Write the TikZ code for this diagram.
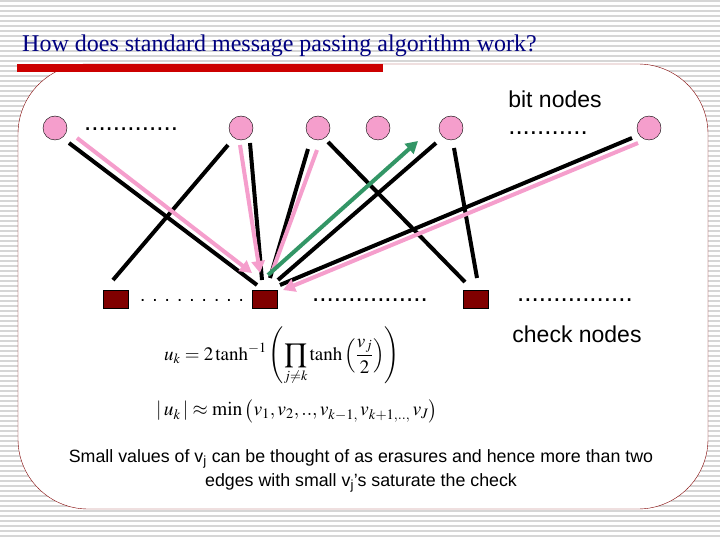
\documentclass[tikz,border=0pt]{standalone}
\usepackage{mathptmx}
\usepackage[no-math]{fontspec}
\setmainfont{Liberation Serif}
\setsansfont{Liberation Sans}
\usetikzlibrary{arrows.meta}

\definecolor{bitpink}{RGB}{245,158,204}
\definecolor{checkred}{RGB}{128,0,0}
\definecolor{msggreen}{RGB}{51,150,102}
\definecolor{titleblue}{RGB}{0,0,128}
\definecolor{barred}{RGB}{204,0,0}

\tikzset{
  bitnode/.style={circle, draw=black, thin, fill=bitpink, minimum size=24pt, inner sep=0pt},
  checknode/.style={rectangle, draw=black, very thin, fill=checkred, minimum width=25pt, minimum height=18pt, inner sep=0pt},
  link/.style={black, line width=4pt},
  msg/.style={bitpink, line width=4pt},
  msgtip/.style={-{Triangle[length=12pt,width=13pt]}},
  reply/.style={msggreen, line width=4pt, -{Triangle[length=12pt,width=13pt]}},
  dotrow/.style={font=\sffamily\fontsize{26}{26}\selectfont, inner sep=0pt, anchor=base},
  tag/.style={font=\sffamily\fontsize{23}{26}\selectfont, inner sep=0pt, anchor=base},
  stripe/.style={black!16, line width=2pt}
}

\begin{document}
\begin{tikzpicture}[x=1pt, y=-1pt]
  \useasboundingbox (0,0) rectangle (720,540);

  % striped slide background, white panel on top
  \foreach \y in {1,6,...,540}
    \draw[stripe] (0,\y) -- (720,\y);
  \draw[checkred, thin, fill=white, rounded corners=70pt] (18,64) rectangle (708,509);
  \fill[barred] (17,64) rectangle (383,72);
  \node[titleblue, font=\fontsize{24}{26}\selectfont, anchor=base west, inner sep=0pt] (title) at (22,52)
    {How does standard message passing algorithm work?};

  % bit nodes and check nodes
  \node[bitnode] (b1) at (55,128) {};
  \node[bitnode] (b2) at (241,128) {};
  \node[bitnode] (b3) at (318,128) {};
  \node[bitnode] (b4) at (378,128) {};
  \node[bitnode] (b5) at (451,128) {};
  \node[bitnode] (b6) at (649,128) {};

  \node[checknode] (c1) at (116,299) {};
  \node[checknode] (c2) at (265,299) {};
  \node[checknode] (c3) at (476,299) {};

  \node[dotrow] (bdotsA) at (131,131) {.............};
  \node[dotrow] (bdotsB) at (548,135) {...........};
  \node[dotrow, font=\sffamily\fontsize{19}{19}\selectfont] (cdotsA) at (192,301) {. . . . . . . . .};
  \node[dotrow] (cdotsB) at (370,301) {................};
  \node[dotrow] (cdotsC) at (575,301) {................};

  \node[tag] (bitlabel) at (555,108) {bit nodes};
  \node[tag] (checklabel) at (577,342) {check nodes};

  % graph edges
  \draw[link] ([shift={(14,15)}]b1.center) -- ([shift={(-8,-14)}]c2.center);
  \draw[link] ([shift={(-13,17)}]b2.center) -- ([shift={(-3,-19)}]c1.center);
  \draw[link] ([shift={(9,15)}]b2.center) -- ([shift={(-3,-19)}]c2.center);
  \draw[link] ([shift={(-10,21)}]b3.center) -- ([shift={(5,-21)}]c2.center);
  \draw[link] ([shift={(10,14)}]b3.center) -- ([shift={(-11,-17)}]c3.center);
  \draw[link] ([shift={(-15,15)}]b5.center) -- ([shift={(13,-19)}]c2.center);
  \draw[link] ([shift={(3,20)}]b5.center) -- ([shift={(1,-21)}]c3.center);
  \draw[link] ([shift={(-17,10)}]b6.center) -- ([shift={(15,-14)}]c2.center);

  % messages into the check, and the one going out
  \draw[msg, msgtip] ([shift={(22,10)}]b1.center) -- ([shift={(-13,-26)}]c2.center);
  \draw[msg, msgtip] ([shift={(-1,17)}]b2.center) -- ([shift={(-5,-26)}]c2.center);
  \draw[msg] ([shift={(-1,22)}]b3.center) -- ([shift={(7,-27)}]c2.center);
  \draw[msg, msgtip] ([shift={(-11,15)}]b6.center) -- ([shift={(18,-9)}]c2.center);
  \draw[reply] ([shift={(3,-24)}]c2.center) -- ([shift={(-33,13)}]b5.center);

  % update rule
  \node[font=\fontsize{19}{22}\selectfont] (exact) at (282,356)
    {$\displaystyle u_k = 2\tanh^{-1}\left(\prod_{j\neq k}\tanh\left(\frac{v_j}{2}\right)\right)$};
  \node[font=\fontsize{19.5}{22}\selectfont] (approx) at (297,411)
    {$\displaystyle |\,u_k\,| \approx \min\left(v_1, v_2, .., v_{k-1,}\, v_{k+1,..,}\, v_J\right)$};

  \node[font=\sffamily\fontsize{17.8}{24}\selectfont, align=center] (note) at (361,471)
    {Small values of v\textsubscript{j} can be thought of as erasures and hence more than two\\
     edges with small v\textsubscript{j}’s saturate the check};
\end{tikzpicture}
\end{document}
